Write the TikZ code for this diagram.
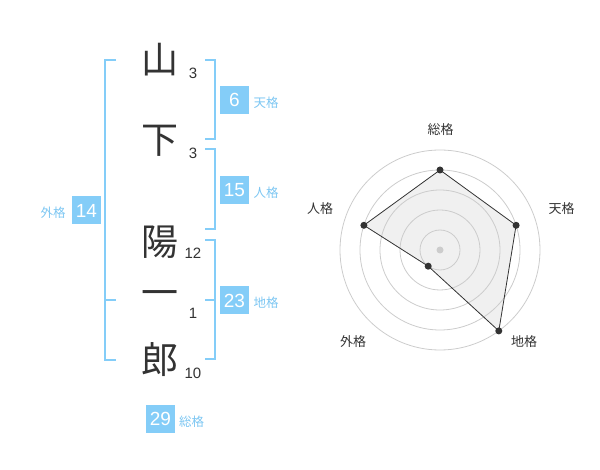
\documentclass[tikz,border=0pt]{standalone}
\usepackage{fontspec}
\setmainfont{Liberation Sans}
\newfontfamily\cjk{Noto Sans CJK JP}
\definecolor{lblue}{HTML}{84CDF8}
\definecolor{tblue}{HTML}{7CC6F2}
\definecolor{dark}{HTML}{333333}
\definecolor{ring}{HTML}{CCCCCC}
\definecolor{area}{HTML}{F0F0F0}
\tikzset{
  bigchar/.style={font=\cjk\fontsize{37}{37}\selectfont, text=dark, inner sep=0pt},
  strokes/.style={font=\fontsize{15}{15}\selectfont, text=dark, inner sep=0pt},
  numbox/.style={fill=lblue, text=white, minimum width=29pt, minimum height=28pt, inner sep=0pt, font=\fontsize{19}{19}\selectfont},
  kaku/.style={font=\cjk\fontsize{12.5}{12.5}\selectfont, text=tblue, inner sep=0pt},
  axislbl/.style={font=\cjk\fontsize{13}{13}\selectfont, text=dark, inner sep=0pt},
  brk/.style={draw=lblue, line width=2pt},
  ringline/.style={draw=ring, line width=0.8pt},
  vdot/.style={circle, fill=dark, minimum size=7pt, inner sep=0pt},
}
\begin{document}
\begin{tikzpicture}[x=1pt,y=-1pt]
\useasboundingbox (0,0) rectangle (600,470);
% characters
\node[bigchar] (c1) at (160,60) {山};
\node[bigchar] (c2) at (160,141) {下};
\node[bigchar] (c3) at (160,242) {陽};
\node[bigchar] (c4) at (160,299) {一};
\node[bigchar] (c5) at (160,360) {郎};
\node[strokes] (s1) at (193,73) {3};
\node[strokes] (s2) at (193,153.5) {3};
\node[strokes] (s3) at (193,253.5) {12};
\node[strokes] (s4) at (193,313.5) {1};
\node[strokes] (s5) at (193,373) {10};
% brackets
\draw[brk] (116,60) -- (105,60) -- (105,360) -- (116,360);
\draw[brk] (105,300) -- (116,300);
\draw[brk] (205,60) -- (215,60) -- (215,139.5) -- (205,139.5);
\draw[brk] (205,149.5) -- (215,149.5) -- (215,229.5) -- (205,229.5);
\draw[brk] (205,240) -- (215,240) -- (215,359.5) -- (205,359.5);
\draw[brk] (205,300) -- (215,300);
% boxes
\node[numbox] (b6) at (234.5,100) {6};
\node[kaku] (k6) at (266,103) {天格};
\node[numbox] (b15) at (234.5,190) {15};
\node[kaku] (k15) at (266,193) {人格};
\node[numbox] (b14) at (86.5,210.5) {14};
\node[kaku] (k14) at (53,213) {外格};
\node[numbox] (b23) at (234.5,300.5) {23};
\node[kaku] (k23) at (266,303) {地格};
\node[numbox] (b29) at (160.5,419) {29};
\node[kaku] (k29) at (191.5,422) {総格};
% radar
\coordinate (o) at (440,250);
\coordinate (p1) at (440,170);
\coordinate (p2) at (516.1,225.3);
\coordinate (p3) at (498.8,330.9);
\coordinate (p4) at (428.2,266.2);
\coordinate (p5) at (363.9,225.3);
\fill[area] (p1) -- (p2) -- (p3) -- (p4) -- (p5) -- cycle;
\foreach \r in {20,40,60,80,100} \draw[ringline] (o) circle[radius=\r];
\fill[ring] (o) circle[radius=3.5];
\draw[dark, line width=0.8pt] (p1) -- (p2) -- (p3) -- (p4) -- (p5) -- cycle;
\foreach \p in {p1,p2,p3,p4,p5} \node[vdot] at (\p) {};
\node[axislbl] (a1) at (440.5,130) {総格};
\node[axislbl] (a2) at (561.5,209) {天格};
\node[axislbl] (a3) at (524,342) {地格};
\node[axislbl] (a4) at (353,342) {外格};
\node[axislbl] (a5) at (320,209) {人格};
\end{tikzpicture}
\end{document}
